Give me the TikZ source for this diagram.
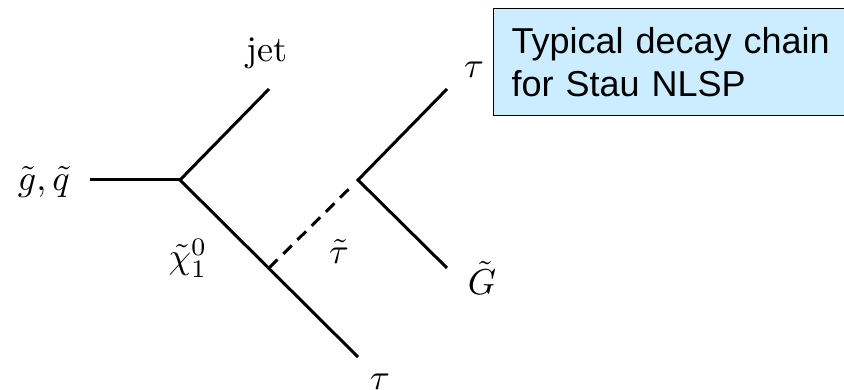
\documentclass[tikz,border=0pt]{standalone}
\usepackage{fontspec}
\newfontfamily\boxfont{Liberation Sans}
\definecolor{boxblue}{RGB}{204,236,255}
\newcommand{\BL}[1]{\scalebox{3.6}{#1}}
\begin{document}
\begin{tikzpicture}[x=1pt,y=-1pt,
  prop/.style={line width=3pt, line join=miter},
  sprop/.style={line width=3pt, dash pattern=on 12pt off 8pt},
  lbl/.style={inner sep=0pt},
  notebox/.style={draw=black, line width=1.2pt, fill=boxblue, anchor=north west,
    minimum width=360pt, minimum height=107pt, text width=324pt, inner xsep=18pt,
    align=left, font=\boxfont\fontsize{36}{43}\selectfont}]
\useasboundingbox (0,0) rectangle (844,390);
% vertices and ends
\coordinate (in) at (90,180);
\coordinate (v1) at (180,180);
\coordinate (jetend) at (269,89);
\coordinate (tauend) at (358,357);
\coordinate (vs) at (269,268);
\coordinate (v2) at (358,180);
\coordinate (tautop) at (447,89);
\coordinate (gend) at (447,268);
% lines
\draw[prop] (in) -- (v1);
\draw[prop] (jetend) -- (v1) -- (tauend);
\draw[prop] (tautop) -- (v2) -- (gend);
\draw[sprop, shorten >=10pt] (vs) -- (v2);
% labels
\node[lbl, anchor=east] (gq) at (70,182) {\BL{$\tilde g,\tilde q$}};
\node[lbl] (jet) at (267,53) {\BL{jet}};
\node[lbl] (chi) at (188,258) {\BL{$\tilde\chi_1^0$}};
\node[lbl] (stau) at (339,251) {\BL{$\tilde\tau$}};
\node[lbl] (taub) at (380,382) {\BL{$\tau$}};
\node[lbl] (taut) at (474,70) {\BL{$\tau$}};
\node[lbl] (gt) at (482,278) {\BL{$\tilde G$}};
% note box
\node[notebox] (note) at (493,8) {Typical decay chain\\for Stau NLSP};
\end{tikzpicture}
\end{document}
